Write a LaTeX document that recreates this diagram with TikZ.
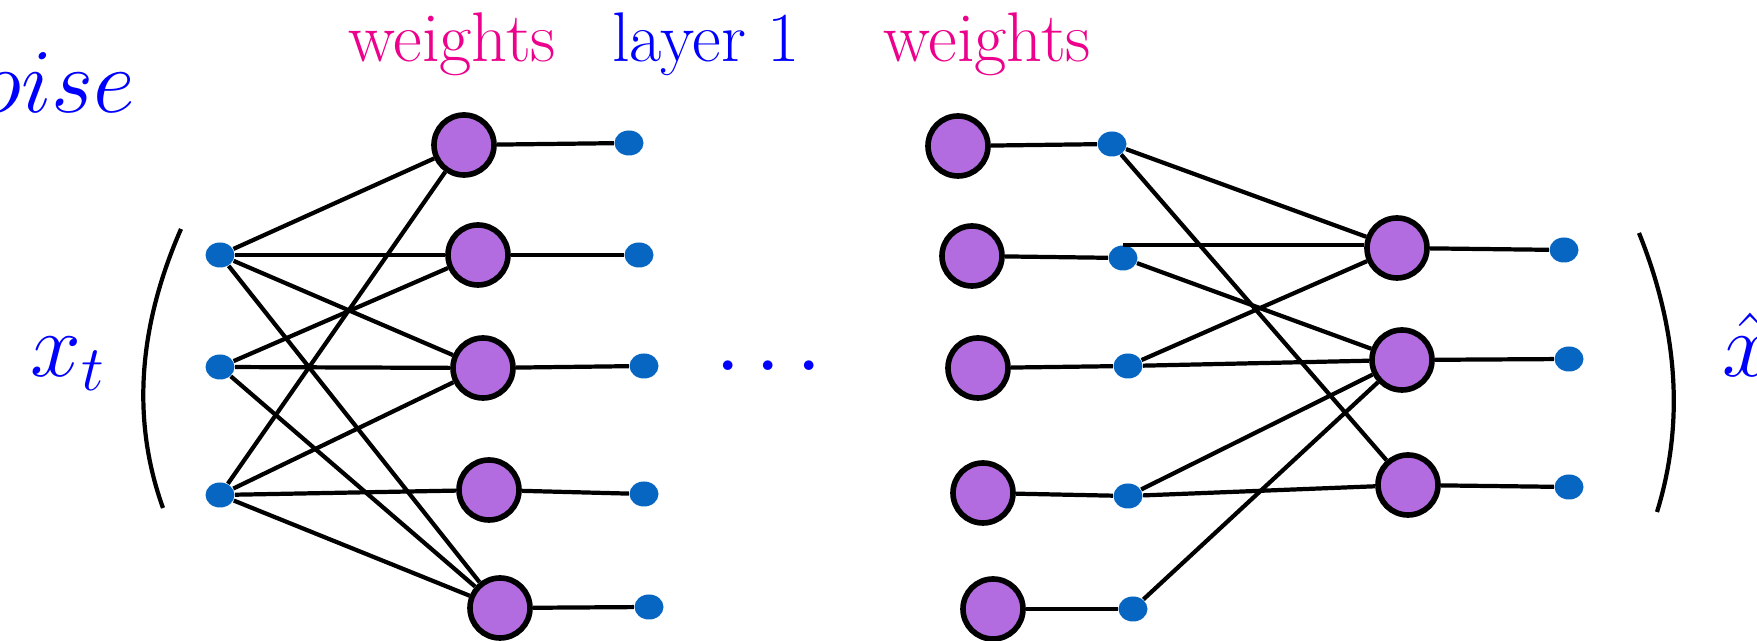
\RequirePackage{fix-cm}
\documentclass[tikz,border=0pt]{standalone}
\usepackage{xcolor}
\usepackage{amsmath}
\usepackage{tikz}
\usetikzlibrary{shapes.geometric,positioning}

\definecolor{wpink}{RGB}{236,0,140}
\definecolor{unitpurple}{RGB}{179,108,224}
\definecolor{beadblue}{RGB}{6,102,194}

\begin{document}
\begin{tikzpicture}[
    neuron/.style={circle, fill=unitpurple, draw=black, line width=1.6pt, minimum size=0.6cm, inner sep=0pt},
    bead/.style={ellipse, fill=beadblue, minimum width=0.29cm, minimum height=0.25cm, inner sep=0pt},
    link/.style={line width=1.2pt, black},
    bigmath/.style={blue, font=\fontsize{26}{30}\selectfont},
    toplabel/.style={font=\fontsize{20}{24}\selectfont, anchor=base west}
]
    \useasboundingbox (0,0) rectangle (17.57,6.41);

    % Left block: inputs, hidden units, outputs
    \foreach \k/\y in {1/3.86, 2/2.74, 3/1.46} {
        \node[bead] (I\k) at (2.20,\y) {};
    }
    \foreach \k/\x/\y in {1/4.64/4.96, 2/4.78/3.86, 3/4.83/2.73, 4/4.89/1.51, 5/5.00/0.33} {
        \node[neuron] (H\k) at (\x,\y) {};
    }
    \foreach \k/\x/\y in {1/6.29/4.98, 2/6.39/3.86, 3/6.44/2.75, 4/6.44/1.47, 5/6.49/0.34} {
        \node[bead] (O\k) at (\x,\y) {};
        \draw[link] (H\k) -- (O\k);
    }

    % Edges (left)
    \foreach \a/\b in {I1/H1, I1/H2, I1/H3, I1/H5, I2/H2, I2/H3, I2/H5, I3/H1, I3/H3, I3/H4, I3/H5} {
        \draw[link] (\a) -- (\b);
    }

    % Right block: last units, their outputs, final layer
    \foreach \k/\x/\y/\u/\v in {1/9.58/4.95/11.12/4.97, 2/9.72/3.85/11.23/3.83, 3/9.78/2.73/11.28/2.75, 4/9.83/1.48/11.28/1.45, 5/9.93/0.32/11.33/0.32} {
        \node[neuron] (G\k) at (\x,\y) {};
        \node[bead] (D\k) at (\u,\v) {};
        \draw[link] (G\k) -- (D\k);
    }
    \foreach \k/\x/\y/\u/\v in {1/13.97/3.93/15.64/3.91, 2/14.02/2.81/15.69/2.82, 3/14.08/1.56/15.69/1.54} {
        \node[neuron] (K\k) at (\x,\y) {};
        \node[bead] (F\k) at (\u,\v) {};
        \draw[link] (K\k) -- (F\k);
    }

    % Edges (right)
    \foreach \a/\b in {D1/K1, D1/K3, D2/K2, D3/K1, D3/K2, D4/K2, D4/K3, D5/K2} {
        \draw[link] (\a) -- (\b);
    }
    \draw[link] (D2.north) -- (D2.north -| K1.west);

    % Brackets
    \draw[link] (1.81,4.12) .. controls (1.377,3.13) and (1.317,2.20) .. (1.63,1.33);
    \draw[link] (16.39,4.08) .. controls (16.783,3.103) and (16.843,2.173) .. (16.57,1.29);

    % Labels
    \node[bigmath, anchor=base east] (noise) at (1.48,5.28) {$noise$};
    \node[bigmath, anchor=base west] (xt) at (0.18,2.64) {$x_t$};
    \node[bigmath, anchor=base west] (xhat) at (17.10,2.64) {$\hat{x}$};
    \node[bigmath] (gap) at (7.76,2.73) {$\cdots$};
    \node[toplabel, wpink] (wtA) at (3.36,5.79) {weights};
    \node[toplabel, blue] (lay) at (6.00,5.79) {layer 1};
    \node[toplabel, wpink] (wtB) at (8.71,5.79) {weights};
\end{tikzpicture}
\end{document}
